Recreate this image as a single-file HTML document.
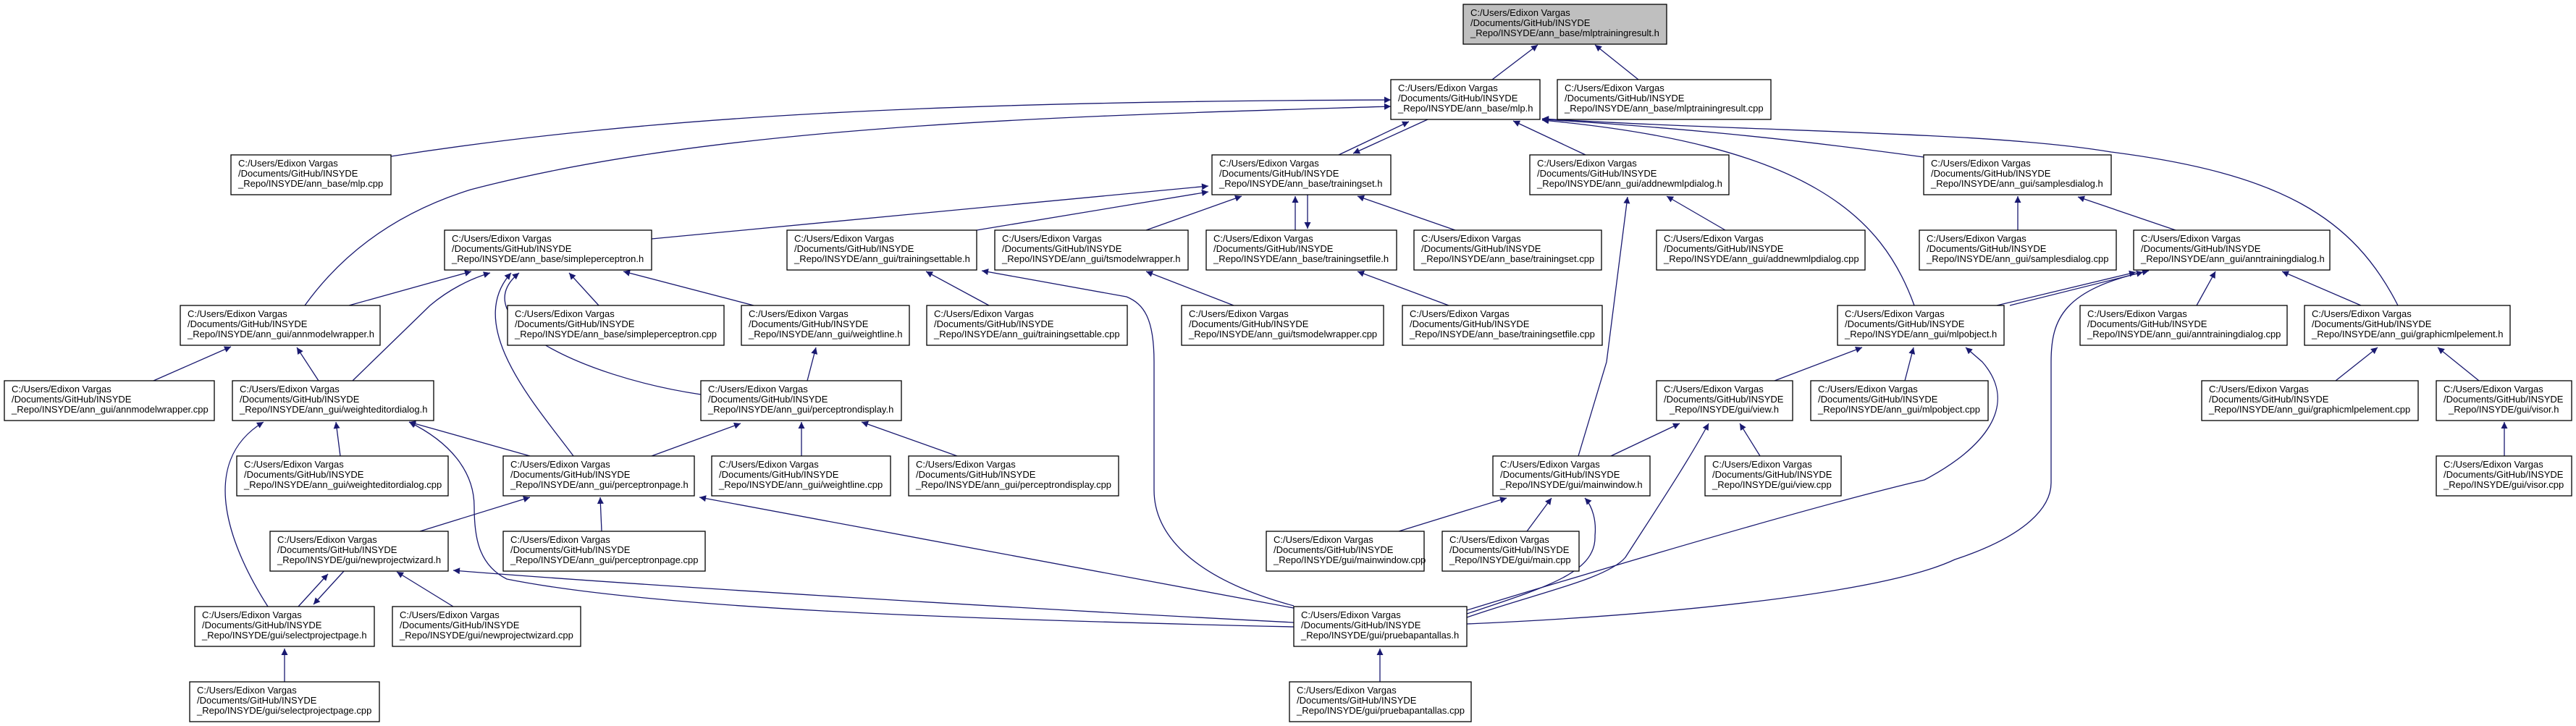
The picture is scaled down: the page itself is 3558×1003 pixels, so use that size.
<!DOCTYPE html>
<html><head><meta charset="utf-8"><style>
html,body{margin:0;padding:0;background:#fff;width:3558px;height:1003px;overflow:hidden}
svg text{font-family:"Liberation Sans",sans-serif;font-size:13px;fill:#000}
.n{fill:#fff;stroke:#000;stroke-width:1.3}
.e{fill:none;stroke:#191970;stroke-width:1.3}
</style></head><body>
<svg width="3558" height="1003" viewBox="0 0 3558 1003" xmlns="http://www.w3.org/2000/svg">
<defs><marker id="a" viewBox="0 0 10 10" refX="10" refY="5" markerWidth="11" markerHeight="9" markerUnits="userSpaceOnUse" orient="auto"><path d="M0,0 L10,5 L0,10 z" fill="#191970"/></marker></defs>
<g marker-end="url(#a)">
<path class="e" d="M2061,110 L2124,62"/>
<path class="e" d="M2263,110 L2203,62"/>
<path class="e" d="M540,216 C900,160 1300,140 1921,138"/>
<path class="e" d="M421,422 C480,340 560,290 650,262 C1000,170 1500,160 1921,147"/>
<path class="e" d="M1849,214 L1946,168"/>
<path class="e" d="M1972,165 L1869,212"/>
<path class="e" d="M2190,214 L2090,167"/>
<path class="e" d="M2657,217 C2460,190 2300,175 2130,165"/>
<path class="e" d="M2644,422 C2600,300 2500,200 2130,166"/>
<path class="e" d="M3312,422 C3250,300 3150,240 2916,210 C2750,182 2450,183 2130,164"/>
<path class="e" d="M900,330 L1669,257"/>
<path class="e" d="M1349,318 L1669,265"/>
<path class="e" d="M1583,318 L1715,271"/>
<path class="e" d="M1789,318 L1789,271"/>
<path class="e" d="M1806,269 L1806,316"/>
<path class="e" d="M2010,318 L1875,271"/>
<path class="e" d="M482,422 L651,375"/>
<path class="e" d="M487,526 L594,422 C620,400 650,385 677,377"/>
<path class="e" d="M792,630 C740,560 640,450 706,377"/>
<path class="e" d="M968,545 C800,520 640,440 717,377"/>
<path class="e" d="M827,422 L786,377"/>
<path class="e" d="M1041,422 L861,375"/>
<path class="e" d="M1366,422 L1279,375"/>
<path class="e" d="M1787,837 C1650,800 1594,740 1594,677 L1594,500 C1594,440 1580,420 1556,410 L1356,374"/>
<path class="e" d="M1704,422 L1583,375"/>
<path class="e" d="M2001,422 L1875,375"/>
<path class="e" d="M2383,318 L2302,271"/>
<path class="e" d="M2180,630 L2219,500 L2248,272"/>
<path class="e" d="M2787,318 L2787,271"/>
<path class="e" d="M3005,318 L2870,272"/>
<path class="e" d="M2758,422 L2950,376"/>
<path class="e" d="M2776,422 L2960,376"/>
<path class="e" d="M2026,862 C2300,850 2600,820 2700,773 C2800,740 2833,700 2833,667 L2833,500 C2833,440 2850,400 2968,374"/>
<path class="e" d="M3034,422 L3060,375"/>
<path class="e" d="M3261,422 L3152,375"/>
<path class="e" d="M2451,526 L2572,480"/>
<path class="e" d="M2631,526 L2643,480"/>
<path class="e" d="M2026,843 C2200,790 2500,700 2658,663 C2740,620 2790,560 2738,500 L2715,480"/>
<path class="e" d="M3226,526 L3284,480"/>
<path class="e" d="M3424,526 L3367,480"/>
<path class="e" d="M3459,630 L3459,583"/>
<path class="e" d="M2225,630 L2320,585"/>
<path class="e" d="M2431,630 L2403,585"/>
<path class="e" d="M2026,853 C2120,820 2220,800 2245,770 C2290,700 2330,640 2360,585"/>
<path class="e" d="M1932,734 L2081,688"/>
<path class="e" d="M2109,734 L2143,688"/>
<path class="e" d="M2026,848 C2140,810 2205,790 2203,740 C2205,720 2200,700 2189,688"/>
<path class="e" d="M212,526 L319,479"/>
<path class="e" d="M440,526 L410,480"/>
<path class="e" d="M470,630 L464,583"/>
<path class="e" d="M732,630 L565,583"/>
<path class="e" d="M370,838 C320,760 270,640 364,583"/>
<path class="e" d="M1787,866 C1300,855 900,840 700,800 C660,780 655,740 655,700 C655,650 620,610 565,583"/>
<path class="e" d="M1787,860 C1400,840 900,810 626,788"/>
<path class="e" d="M1787,840 L966,687"/>
<path class="e" d="M580,734 L732,687"/>
<path class="e" d="M831,734 L829,687"/>
<path class="e" d="M900,630 L1023,585"/>
<path class="e" d="M1107,630 L1107,583"/>
<path class="e" d="M1322,630 L1190,583"/>
<path class="e" d="M1115,526 L1127,480"/>
<path class="e" d="M412,838 L453,793"/>
<path class="e" d="M475,789 L433,835"/>
<path class="e" d="M626,838 L548,790"/>
<path class="e" d="M393,942 L393,896"/>
<path class="e" d="M1906,942 L1906,896"/>
</g>
<g>
<rect x="2021" y="6" width="281" height="55" style="fill:#bfbfbf;stroke:#000;stroke-width:1.3"/><text x="2031" y="22">C:/Users/Edixon Vargas</text><text x="2031" y="36">/Documents/GitHub/INSYDE</text><text x="2031" y="50">_Repo/INSYDE/ann_base/mlptrainingresult.h</text>
<rect class="n" x="1921" y="110" width="206" height="55"/><text x="1931" y="126">C:/Users/Edixon Vargas</text><text x="1931" y="140">/Documents/GitHub/INSYDE</text><text x="1931" y="154">_Repo/INSYDE/ann_base/mlp.h</text>
<rect class="n" x="2151" y="110" width="295" height="55"/><text x="2161" y="126">C:/Users/Edixon Vargas</text><text x="2161" y="140">/Documents/GitHub/INSYDE</text><text x="2161" y="154">_Repo/INSYDE/ann_base/mlptrainingresult.cpp</text>
<rect class="n" x="319" y="214" width="221" height="55"/><text x="329" y="230">C:/Users/Edixon Vargas</text><text x="329" y="244">/Documents/GitHub/INSYDE</text><text x="329" y="258">_Repo/INSYDE/ann_base/mlp.cpp</text>
<rect class="n" x="1674" y="214" width="247" height="55"/><text x="1684" y="230">C:/Users/Edixon Vargas</text><text x="1684" y="244">/Documents/GitHub/INSYDE</text><text x="1684" y="258">_Repo/INSYDE/ann_base/trainingset.h</text>
<rect class="n" x="2113" y="214" width="275" height="55"/><text x="2123" y="230">C:/Users/Edixon Vargas</text><text x="2123" y="244">/Documents/GitHub/INSYDE</text><text x="2123" y="258">_Repo/INSYDE/ann_gui/addnewmlpdialog.h</text>
<rect class="n" x="2657" y="214" width="259" height="55"/><text x="2667" y="230">C:/Users/Edixon Vargas</text><text x="2667" y="244">/Documents/GitHub/INSYDE</text><text x="2667" y="258">_Repo/INSYDE/ann_gui/samplesdialog.h</text>
<rect class="n" x="614" y="318" width="286" height="55"/><text x="624" y="334">C:/Users/Edixon Vargas</text><text x="624" y="348">/Documents/GitHub/INSYDE</text><text x="624" y="362">_Repo/INSYDE/ann_base/simpleperceptron.h</text>
<rect class="n" x="1087" y="318" width="262" height="55"/><text x="1097" y="334">C:/Users/Edixon Vargas</text><text x="1097" y="348">/Documents/GitHub/INSYDE</text><text x="1097" y="362">_Repo/INSYDE/ann_gui/trainingsettable.h</text>
<rect class="n" x="1374" y="318" width="267" height="55"/><text x="1384" y="334">C:/Users/Edixon Vargas</text><text x="1384" y="348">/Documents/GitHub/INSYDE</text><text x="1384" y="362">_Repo/INSYDE/ann_gui/tsmodelwrapper.h</text>
<rect class="n" x="1666" y="318" width="263" height="55"/><text x="1676" y="334">C:/Users/Edixon Vargas</text><text x="1676" y="348">/Documents/GitHub/INSYDE</text><text x="1676" y="362">_Repo/INSYDE/ann_base/trainingsetfile.h</text>
<rect class="n" x="1953" y="318" width="259" height="55"/><text x="1963" y="334">C:/Users/Edixon Vargas</text><text x="1963" y="348">/Documents/GitHub/INSYDE</text><text x="1963" y="362">_Repo/INSYDE/ann_base/trainingset.cpp</text>
<rect class="n" x="2288" y="318" width="288" height="55"/><text x="2298" y="334">C:/Users/Edixon Vargas</text><text x="2298" y="348">/Documents/GitHub/INSYDE</text><text x="2298" y="362">_Repo/INSYDE/ann_gui/addnewmlpdialog.cpp</text>
<rect class="n" x="2651" y="318" width="272" height="55"/><text x="2661" y="334">C:/Users/Edixon Vargas</text><text x="2661" y="348">/Documents/GitHub/INSYDE</text><text x="2661" y="362">_Repo/INSYDE/ann_gui/samplesdialog.cpp</text>
<rect class="n" x="2947" y="318" width="271" height="55"/><text x="2957" y="334">C:/Users/Edixon Vargas</text><text x="2957" y="348">/Documents/GitHub/INSYDE</text><text x="2957" y="362">_Repo/INSYDE/ann_gui/anntrainingdialog.h</text>
<rect class="n" x="249" y="422" width="276" height="55"/><text x="259" y="438">C:/Users/Edixon Vargas</text><text x="259" y="452">/Documents/GitHub/INSYDE</text><text x="259" y="466">_Repo/INSYDE/ann_gui/annmodelwrapper.h</text>
<rect class="n" x="701" y="422" width="299" height="55"/><text x="711" y="438">C:/Users/Edixon Vargas</text><text x="711" y="452">/Documents/GitHub/INSYDE</text><text x="711" y="466">_Repo/INSYDE/ann_base/simpleperceptron.cpp</text>
<rect class="n" x="1024" y="422" width="232" height="55"/><text x="1034" y="438">C:/Users/Edixon Vargas</text><text x="1034" y="452">/Documents/GitHub/INSYDE</text><text x="1034" y="466">_Repo/INSYDE/ann_gui/weightline.h</text>
<rect class="n" x="1280" y="422" width="277" height="55"/><text x="1290" y="438">C:/Users/Edixon Vargas</text><text x="1290" y="452">/Documents/GitHub/INSYDE</text><text x="1290" y="466">_Repo/INSYDE/ann_gui/trainingsettable.cpp</text>
<rect class="n" x="1632" y="422" width="279" height="55"/><text x="1642" y="438">C:/Users/Edixon Vargas</text><text x="1642" y="452">/Documents/GitHub/INSYDE</text><text x="1642" y="466">_Repo/INSYDE/ann_gui/tsmodelwrapper.cpp</text>
<rect class="n" x="1937" y="422" width="276" height="55"/><text x="1947" y="438">C:/Users/Edixon Vargas</text><text x="1947" y="452">/Documents/GitHub/INSYDE</text><text x="1947" y="466">_Repo/INSYDE/ann_base/trainingsetfile.cpp</text>
<rect class="n" x="2538" y="422" width="230" height="55"/><text x="2548" y="438">C:/Users/Edixon Vargas</text><text x="2548" y="452">/Documents/GitHub/INSYDE</text><text x="2548" y="466">_Repo/INSYDE/ann_gui/mlpobject.h</text>
<rect class="n" x="2873" y="422" width="286" height="55"/><text x="2883" y="438">C:/Users/Edixon Vargas</text><text x="2883" y="452">/Documents/GitHub/INSYDE</text><text x="2883" y="466">_Repo/INSYDE/ann_gui/anntrainingdialog.cpp</text>
<rect class="n" x="3183" y="422" width="284" height="55"/><text x="3193" y="438">C:/Users/Edixon Vargas</text><text x="3193" y="452">/Documents/GitHub/INSYDE</text><text x="3193" y="466">_Repo/INSYDE/ann_gui/graphicmlpelement.h</text>
<rect class="n" x="6" y="526" width="290" height="55"/><text x="16" y="542">C:/Users/Edixon Vargas</text><text x="16" y="556">/Documents/GitHub/INSYDE</text><text x="16" y="570">_Repo/INSYDE/ann_gui/annmodelwrapper.cpp</text>
<rect class="n" x="321" y="526" width="278" height="55"/><text x="331" y="542">C:/Users/Edixon Vargas</text><text x="331" y="556">/Documents/GitHub/INSYDE</text><text x="331" y="570">_Repo/INSYDE/ann_gui/weighteditordialog.h</text>
<rect class="n" x="968" y="526" width="277" height="55"/><text x="978" y="542">C:/Users/Edixon Vargas</text><text x="978" y="556">/Documents/GitHub/INSYDE</text><text x="978" y="570">_Repo/INSYDE/ann_gui/perceptrondisplay.h</text>
<rect class="n" x="2288" y="526" width="188" height="55"/><text x="2298" y="542">C:/Users/Edixon Vargas</text><text x="2298" y="556">/Documents/GitHub/INSYDE</text><text x="2306" y="570">_Repo/INSYDE/gui/view.h</text>
<rect class="n" x="2501" y="526" width="245" height="55"/><text x="2511" y="542">C:/Users/Edixon Vargas</text><text x="2511" y="556">/Documents/GitHub/INSYDE</text><text x="2511" y="570">_Repo/INSYDE/ann_gui/mlpobject.cpp</text>
<rect class="n" x="3041" y="526" width="299" height="55"/><text x="3051" y="542">C:/Users/Edixon Vargas</text><text x="3051" y="556">/Documents/GitHub/INSYDE</text><text x="3051" y="570">_Repo/INSYDE/ann_gui/graphicmlpelement.cpp</text>
<rect class="n" x="3365" y="526" width="187" height="55"/><text x="3375" y="542">C:/Users/Edixon Vargas</text><text x="3375" y="556">/Documents/GitHub/INSYDE</text><text x="3382" y="570">_Repo/INSYDE/gui/visor.h</text>
<rect class="n" x="327" y="630" width="292" height="55"/><text x="337" y="646">C:/Users/Edixon Vargas</text><text x="337" y="660">/Documents/GitHub/INSYDE</text><text x="337" y="674">_Repo/INSYDE/ann_gui/weighteditordialog.cpp</text>
<rect class="n" x="695" y="630" width="264" height="55"/><text x="705" y="646">C:/Users/Edixon Vargas</text><text x="705" y="660">/Documents/GitHub/INSYDE</text><text x="705" y="674">_Repo/INSYDE/ann_gui/perceptronpage.h</text>
<rect class="n" x="983" y="630" width="247" height="55"/><text x="993" y="646">C:/Users/Edixon Vargas</text><text x="993" y="660">/Documents/GitHub/INSYDE</text><text x="993" y="674">_Repo/INSYDE/ann_gui/weightline.cpp</text>
<rect class="n" x="1255" y="630" width="290" height="55"/><text x="1265" y="646">C:/Users/Edixon Vargas</text><text x="1265" y="660">/Documents/GitHub/INSYDE</text><text x="1265" y="674">_Repo/INSYDE/ann_gui/perceptrondisplay.cpp</text>
<rect class="n" x="2062" y="630" width="217" height="55"/><text x="2072" y="646">C:/Users/Edixon Vargas</text><text x="2072" y="660">/Documents/GitHub/INSYDE</text><text x="2072" y="674">_Repo/INSYDE/gui/mainwindow.h</text>
<rect class="n" x="2355" y="630" width="188" height="55"/><text x="2365" y="646">C:/Users/Edixon Vargas</text><text x="2365" y="660">/Documents/GitHub/INSYDE</text><text x="2365" y="674">_Repo/INSYDE/gui/view.cpp</text>
<rect class="n" x="3365" y="630" width="187" height="55"/><text x="3375" y="646">C:/Users/Edixon Vargas</text><text x="3375" y="660">/Documents/GitHub/INSYDE</text><text x="3375" y="674">_Repo/INSYDE/gui/visor.cpp</text>
<rect class="n" x="373" y="734" width="246" height="55"/><text x="383" y="750">C:/Users/Edixon Vargas</text><text x="383" y="764">/Documents/GitHub/INSYDE</text><text x="383" y="778">_Repo/INSYDE/gui/newprojectwizard.h</text>
<rect class="n" x="695" y="734" width="279" height="55"/><text x="705" y="750">C:/Users/Edixon Vargas</text><text x="705" y="764">/Documents/GitHub/INSYDE</text><text x="705" y="778">_Repo/INSYDE/ann_gui/perceptronpage.cpp</text>
<rect class="n" x="1749" y="734" width="218" height="55"/><text x="1759" y="750">C:/Users/Edixon Vargas</text><text x="1759" y="764">/Documents/GitHub/INSYDE</text><text x="1759" y="778">_Repo/INSYDE/gui/mainwindow.cpp</text>
<rect class="n" x="1992" y="734" width="189" height="55"/><text x="2002" y="750">C:/Users/Edixon Vargas</text><text x="2002" y="764">/Documents/GitHub/INSYDE</text><text x="2002" y="778">_Repo/INSYDE/gui/main.cpp</text>
<rect class="n" x="269" y="838" width="248" height="55"/><text x="279" y="854">C:/Users/Edixon Vargas</text><text x="279" y="868">/Documents/GitHub/INSYDE</text><text x="279" y="882">_Repo/INSYDE/gui/selectprojectpage.h</text>
<rect class="n" x="542" y="838" width="260" height="55"/><text x="552" y="854">C:/Users/Edixon Vargas</text><text x="552" y="868">/Documents/GitHub/INSYDE</text><text x="552" y="882">_Repo/INSYDE/gui/newprojectwizard.cpp</text>
<rect class="n" x="1787" y="838" width="239" height="55"/><text x="1797" y="854">C:/Users/Edixon Vargas</text><text x="1797" y="868">/Documents/GitHub/INSYDE</text><text x="1797" y="882">_Repo/INSYDE/gui/pruebapantallas.h</text>
<rect class="n" x="262" y="942" width="262" height="55"/><text x="272" y="958">C:/Users/Edixon Vargas</text><text x="272" y="972">/Documents/GitHub/INSYDE</text><text x="272" y="986">_Repo/INSYDE/gui/selectprojectpage.cpp</text>
<rect class="n" x="1781" y="942" width="251" height="55"/><text x="1791" y="958">C:/Users/Edixon Vargas</text><text x="1791" y="972">/Documents/GitHub/INSYDE</text><text x="1791" y="986">_Repo/INSYDE/gui/pruebapantallas.cpp</text>
</g>
</svg>
</body></html>
